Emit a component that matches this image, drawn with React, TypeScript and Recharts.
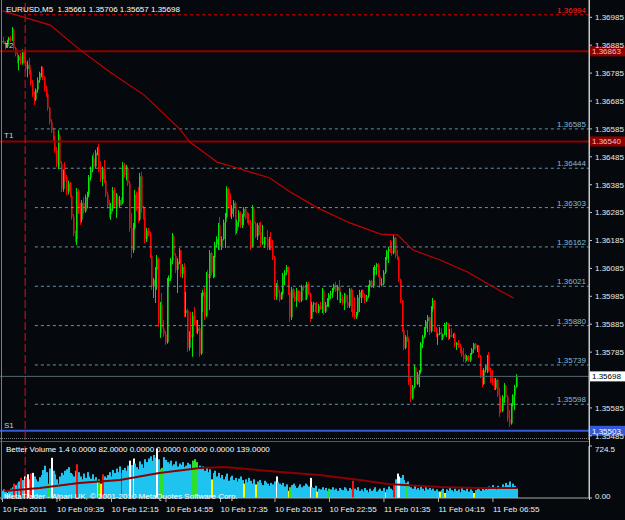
import React from 'react';
import { ComposedChart, Bar, Line, XAxis, YAxis, ReferenceLine } from 'recharts';

const FONT = "'Liberation Sans', Arial, sans-serif";
const BASE = 1.35;
const POINT = 0.00001;

// EURUSD M5 bars: [open, high, low, close] in points above 1.35000
const ohlcPoints: number[][] = [
  [1895,1910,1880,1900],[1900,1915,1890,1893],[1893,1900,1870,1880],[1880,1905,1875,1902],[1902,1915,1895,1910],
  [1910,1918,1898,1905],[1905,1950,1900,1940],[1940,1945,1870,1875],[1875,1880,1845,1852],[1852,1865,1820,1830],
  [1830,1850,1795,1845],[1845,1858,1815,1820],[1820,1870,1815,1862],[1862,1868,1820,1825],[1825,1850,1790,1800],
  [1800,1830,1770,1815],[1815,1840,1780,1790],[1790,1800,1740,1750],[1750,1760,1700,1710],[1710,1720,1671,1690],
  [1690,1730,1685,1725],[1725,1770,1715,1760],[1760,1790,1750,1785],[1785,1810,1770,1800],[1800,1808,1760,1770],
  [1770,1775,1720,1730],[1730,1740,1700,1710],[1710,1715,1650,1660],[1660,1665,1600,1610],[1610,1620,1570,1580],
  [1580,1590,1540,1545],[1545,1560,1500,1510],[1510,1520,1449,1460],[1460,1581,1440,1560],[1560,1565,1450,1460],
  [1460,1470,1359,1370],[1370,1440,1360,1430],[1430,1466,1400,1410],[1410,1420,1348,1360],[1360,1400,1350,1390],
  [1390,1395,1340,1345],[1345,1350,1260,1270],[1270,1280,1200,1210],[1210,1220,1180,1190],[1190,1373,1169,1360],
  [1360,1370,1280,1300],[1300,1320,1241,1260],[1260,1330,1250,1320],[1320,1340,1280,1290],[1290,1350,1285,1340],
  [1340,1360,1300,1350],[1350,1420,1340,1410],[1410,1450,1400,1440],[1440,1490,1430,1480],[1480,1500,1440,1450],
  [1450,1510,1445,1500],[1500,1520,1490,1515],[1515,1530,1430,1440],[1440,1470,1395,1405],[1405,1450,1380,1440],
  [1440,1474,1390,1400],[1400,1420,1341,1350],[1350,1360,1300,1310],[1310,1330,1266,1280],[1280,1320,1259,1300],
  [1300,1377,1290,1365],[1365,1375,1300,1310],[1310,1355,1266,1340],[1340,1350,1300,1310],[1310,1345,1305,1330],
  [1330,1340,1310,1320],[1320,1466,1315,1455],[1455,1463,1410,1420],[1420,1456,1400,1445],[1445,1450,1380,1390],
  [1390,1400,1216,1230],[1230,1284,1122,1150],[1150,1248,1140,1230],[1230,1366,1223,1350],[1350,1360,1290,1300],
  [1300,1377,1248,1260],[1260,1427,1255,1415],[1415,1431,1284,1300],[1300,1310,1260,1270],[1270,1305,1176,1190],
  [1190,1230,1180,1220],[1220,1230,1200,1210],[1210,1216,1122,1130],[1130,1135,1008,1020],[1020,1051,979,1045],
  [1045,1090,961,1080],[1080,1133,1008,1120],[1120,1125,875,890],[890,965,836,955],[955,997,854,870],
  [870,900,840,850],[850,860,811,820],[820,1051,815,1040],[1040,1060,1020,1050],[1050,1122,1040,1115],
  [1115,1212,1100,1200],[1200,1205,1120,1130],[1130,1140,1069,1080],[1080,1122,997,1110],[1110,1158,1100,1150],
  [1150,1151,1054,1065],[1065,1100,1050,1090],[1090,1104,911,925],[925,1001,911,935],[935,940,785,800],
  [800,860,790,850],[850,929,830,840],[840,929,768,915],[915,947,880,890],[890,900,854,860],
  [860,900,850,870],[870,880,768,780],[780,997,775,985],[985,1008,929,1000],[1000,1019,900,915],
  [915,1072,910,1065],[1065,1080,1040,1050],[1050,1151,936,1140],[1140,1144,1060,1070],[1070,1130,1050,1125],
  [1125,1180,1054,1170],[1170,1200,1160,1190],[1190,1248,1151,1240],[1240,1270,1151,1165],[1165,1200,1151,1190],
  [1190,1260,1185,1250],[1250,1284,1158,1270],[1270,1380,1265,1370],[1370,1375,1300,1310],[1310,1355,1270,1280],
  [1280,1312,1262,1300],[1300,1330,1270,1320],[1320,1325,1205,1220],[1220,1260,1210,1250],[1250,1294,1234,1285],
  [1285,1290,1230,1240],[1240,1280,1230,1270],[1270,1305,1241,1298],[1298,1305,1260,1265],[1265,1287,1247,1255],
  [1255,1284,1241,1250],[1250,1259,1151,1165],[1165,1312,1160,1300],[1300,1302,1234,1245],[1245,1252,1194,1200],
  [1200,1248,1187,1240],[1240,1250,1205,1215],[1215,1252,1162,1175],[1175,1241,1169,1180],[1180,1198,1158,1195],
  [1195,1198,1169,1190],[1190,1223,1151,1160],[1160,1198,1151,1190],[1190,1216,1151,1160],[1160,1187,1115,1125],
  [1125,1130,972,985],[985,1033,972,1025],[1025,1044,983,995],[995,1008,965,975],[975,1001,972,995],
  [995,1069,990,1060],[1060,1079,1026,1070],[1070,1097,1062,1090],[1090,1092,990,1000],[1000,1019,893,910],
  [910,1019,900,1010],[1010,1015,979,985],[985,1001,965,970],[970,1015,947,1005],[1005,1008,965,1000],
  [1000,1005,961,970],[970,1026,965,1020],[1020,1025,1005,1015],[1015,1026,972,980],[980,1037,972,1030],
  [1030,1037,990,995],[995,998,893,905],[905,965,904,955],[955,965,929,960],[960,962,929,935],
  [935,965,925,930],[930,958,925,950],[950,965,936,940],[940,1015,925,1005],[1005,1008,918,930],
  [930,965,925,955],[955,979,947,970],[970,997,947,990],[990,1005,975,995],[995,1015,979,1010],
  [1010,1030,1001,1025],[1025,1037,1001,1005],[1005,1026,972,1020],[1020,1044,961,970],[970,1001,961,975],
  [975,990,954,960],[960,997,936,990],[990,995,961,965],[965,990,943,950],[950,1015,943,1010],
  [1010,1015,929,940],[940,1008,911,920],[920,983,904,910],[910,929,904,925],[925,990,918,980],
  [980,1008,929,1000],[1000,1008,961,1005],[1005,1010,980,990],[990,995,961,970],[970,990,965,985],
  [985,1026,979,1020],[1020,1044,1001,1040],[1040,1044,1015,1020],[1020,1090,1015,1080],[1080,1097,1061,1090],
  [1090,1104,1062,1100],[1100,1104,1054,1060],[1060,1079,1015,1025],[1025,1050,1020,1030],[1030,1079,1025,1070],
  [1070,1126,1065,1120],[1120,1151,1115,1145],[1145,1162,1105,1155],[1155,1187,1140,1150],[1150,1180,1130,1140],
  [1140,1205,1135,1195],[1195,1198,1122,1130],[1130,1151,1115,1120],[1120,1125,1037,1045],[1045,1048,961,970],
  [970,972,857,865],[865,870,792,800],[800,846,795,840],[840,864,822,830],[830,835,668,680],
  [680,696,606,620],[620,667,615,660],[660,739,655,730],[730,732,660,670],[670,714,668,705],
  [705,721,660,715],[715,821,710,815],[815,846,800,840],[840,875,835,870],[870,900,846,895],
  [895,918,857,910],[910,912,846,860],[860,950,855,940],[940,979,930,970],[970,972,857,870],
  [870,875,839,845],[845,853,811,850],[850,875,846,855],[855,871,828,835],[835,850,828,848],
  [848,890,846,885],[885,893,839,888],[888,890,828,840],[840,868,832,845],[845,871,839,842],
  [842,852,835,850],[850,855,803,810],[810,821,793,818],[818,828,800,805],[805,815,782,790],
  [790,803,768,775],[775,800,750,760],[760,780,746,755],[755,775,753,770],[770,775,750,755],
  [755,782,750,778],[778,800,775,795],[795,818,782,815],[815,818,793,800],[800,810,785,808],
  [808,810,765,772],[772,775,692,700],[700,721,660,670],[670,728,668,720],[720,739,712,735],
  [735,775,710,770],[770,785,714,720],[720,728,675,680],[680,721,667,675],[675,692,649,655],
  [655,692,649,685],[685,690,624,630],[630,657,553,600],[600,624,567,575],[575,631,570,625],
  [625,674,603,665],[665,667,620,625],[625,631,535,545],[545,577,517,530],[530,602,525,595],
  [595,634,590,630],[630,668,577,661],[661,706,657,698],
];

// Moving average (price panel), read at selected bars
const maBars = [0, 28, 45, 63, 83, 104, 110, 122, 126, 134, 145, 157, 169, 185, 204, 222, 232, 241, 257, 273, 288, 300];
const maPoints = [2008, 1957, 1871, 1789, 1707, 1585, 1538, 1484, 1466, 1452, 1431, 1409, 1359, 1302, 1248, 1208, 1205, 1151, 1115, 1072, 1019, 979];

// Better Volume histogram
const volumes = [
  100,120,90,70,110,130,150,200,180,210,
  230,280,250,300,290,330,260,340,350,300,
  260,230,290,320,390,450,360,200,410,560,
  380,330,260,200,300,350,320,380,400,430,
  350,330,300,380,470,360,300,260,340,280,
  360,300,270,330,260,290,240,260,200,330,
  300,280,320,360,300,390,350,410,360,440,
  350,390,420,380,450,520,460,550,480,430,
  400,510,470,420,540,500,550,580,520,600,
  560,690,540,400,420,570,530,500,480,520,
  450,470,510,440,480,460,500,430,450,490,
  470,420,520,540,500,430,450,400,440,380,
  420,360,400,260,350,380,300,350,280,320,
  260,300,340,240,290,310,250,280,230,270,
  300,250,200,260,220,280,240,200,260,190,
  230,250,210,180,240,220,200,170,210,190,
  230,300,220,200,180,210,160,190,100,150,
  180,200,170,140,160,190,150,170,200,180,
  160,280,150,140,170,90,130,120,150,110,
  140,100,130,120,150,110,130,100,140,120,
  110,150,130,100,140,120,240,130,110,150,
  100,120,90,140,110,80,130,100,120,150,
  90,110,130,100,140,80,120,160,130,110,
  200,260,340,300,280,320,250,210,230,180,
  150,130,170,120,140,110,160,130,100,150,
  120,140,110,130,100,120,90,90,110,130,
  70,120,100,140,110,90,130,100,120,80,
  140,110,100,130,90,120,100,70,110,140,
  120,100,130,110,150,120,160,130,180,140,
  120,170,150,130,190,160,210,180,230,150,
  200,170,130,
];
// c = normal, w = climax low, r = climax high, y = low volume, g = churn
const volumeKinds = [
  'cccycccrcr','crcwrwcrwc','cccccccgcw','cccccccccc','ccccrccccc',
  'ccccccygyr','cccccccccc','rccccwcwcc','cccccccccc','cwcggccccc',
  'cccccccccc','ccgggccccc','cccycccccc','cccccccccc','ccyccccccy',
  'cccccccccc','cwccccccyg','cccccccccc','cwcccycccc','ccgccccccc',
  'ccccccrccc','cccccccccc','cccccycccc','rcwwcccgcc','cccccccccc',
  'cccccccycc','yccccccccc','cccccccycc','cccccccccc','cccccccccc','ccc',
].join('').split('');
const vmaBars = [1, 22, 45, 69, 92, 116, 130, 144, 163, 186, 210, 226, 257, 280, 302];
const vmaValues = [97, 139, 209, 250, 348, 417, 431, 403, 361, 320, 250, 195, 153, 139, 139];

// horizontal objects
const fibLevels = [1.36585, 1.36444, 1.36303, 1.36162, 1.36021, 1.35880, 1.35739, 1.35598];
const dashedHigh = 1.36994;
const targetNames = ['T2', 'T1'];
const targetPrices = [1.36863, 1.36540];
const supportName = 'S1';
const supportPrice = 1.35503;

const priceTicks = [1.36985, 1.36885, 1.36785, 1.36685, 1.36585, 1.36485, 1.36385, 1.36285, 1.36185, 1.36085, 1.35985, 1.35885, 1.35785, 1.35585, 1.35485];
const timeTickBars = [0, 32, 64, 96, 128, 160, 192, 224, 256, 288];
const timeTickLabels = ['10 Feb 2011', '10 Feb 09:35', '10 Feb 12:15', '10 Feb 14:55', '10 Feb 17:35', '10 Feb 20:15', '10 Feb 22:55', '11 Feb 01:35', '11 Feb 04:15', '11 Feb 06:55'];
const separatorBar = 13.3;

const volumeTop = 724.5;

// axis limits
const X_MIN = -1.47;
const X_MAX = 344.4;
const Y_MIN = 1.3547;
const Y_MAX = 1.37047;

const toPrice = (p: number) => BASE + p * POINT;

const priceTable = ohlcPoints.map((b, i) => ({
  i,
  o: toPrice(b[0]), h: toPrice(b[1]), l: toPrice(b[2]), c: toPrice(b[3]),
  range: [toPrice(b[2]), toPrice(b[1])],
}));
const maTable = maBars.map((b, k) => ({ i: b, ma: toPrice(maPoints[k]) }));

const volTable = volumes.map((v, i) => ({ i, v, kind: volumeKinds[i] }));
const vmaTable = vmaBars.map((b, k) => ({ i: b, vma: vmaValues[k] }));

const last = priceTable[priceTable.length - 1];
const headerText = `EURUSD,M5  ${last.o.toFixed(5)} ${last.h.toFixed(5)} ${last.l.toFixed(5)} ${last.c.toFixed(5)}`;

const BG = '#05090d';
const BULL_WICK = '#00e600';
const BULL_BODY = '#158515';
const BEAR_WICK = '#ff0000';
const BEAR_BODY = '#8a1010';
const VOL_COLORS: Record<string, string> = { c: '#1ec4ef', w: '#ffffff', r: '#ff1010', y: '#ffff00', g: '#2ee02e' };

const Candle = (props: any) => {
  const { x, y, width, height, payload } = props;
  if (!payload || x == null) return null;
  const top = Math.min(y, y + height);
  const hgt = Math.abs(height);
  const span = payload.h - payload.l || 1e-9;
  const py = (v: number) => top + ((payload.h - v) / span) * hgt;
  const cx = Math.round(x + width / 2);
  const up = payload.c >= payload.o;
  const bTop = py(Math.max(payload.o, payload.c));
  const bBot = py(Math.min(payload.o, payload.c));
  return (
    <g>
      <rect x={cx} y={bTop} width={1} height={Math.max(1, bBot - bTop)} fill={up ? BULL_BODY : BEAR_BODY} />
      <rect x={cx - 1} y={top} width={1} height={Math.max(1, hgt)} fill={up ? BULL_WICK : BEAR_WICK} />
    </g>
  );
};

const VolBar = (props: any) => {
  const { x, y, width, height, payload } = props;
  if (!payload || x == null) return null;
  const cx = Math.round(x + width / 2);
  return <rect x={cx - 1} y={y} width={2} height={Math.max(0, height)} fill={VOL_COLORS[payload.kind] || VOL_COLORS.c} />;
};

const levelLabel = (text: string, color: string) => (props: any) => {
  const vb = props.viewBox || {};
  return (
    <text x={vb.x + vb.width - 3} y={vb.y - 2} textAnchor="end" fill={color} fontSize={8} fontFamily={FONT}>
      {text}
    </text>
  );
};

const boxLabel = (name: string, text: string, bg: string, fg: string) => (props: any) => {
  const vb = props.viewBox || {};
  const y = vb.y;
  const right = vb.x + vb.width;
  return (
    <g>
      {name ? (
        <text x={4} y={y - 3} fill="#cfcfcf" fontSize={8} fontFamily={FONT}>{name}</text>
      ) : null}
      <rect x={right + 1} y={y - 5} width={36} height={10} fill={bg} />
      <text x={right + 3} y={y + 3} fill={fg} fontSize={8} fontFamily={FONT}>{text}</text>
    </g>
  );
};

const TimeTick = (props: any) => {
  const { x, y, payload } = props;
  const k = timeTickBars.indexOf(payload.value);
  return (
    <g>
      <line x1={x} x2={x} y1={y} y2={y + 4} stroke="#b0b0b0" />
      <text x={x} y={y + 14} fill="#f0f0f0" fontSize={8} fontFamily={FONT} textAnchor="start">
        {k >= 0 ? timeTickLabels[k] : ''}
      </text>
    </g>
  );
};

const VolTick = (props: any) => {
  const { x, y, payload } = props;
  const isTop = payload.value > 0;
  return (
    <text x={x} y={isTop ? y + 6 : y + 1} fill="#f0f0f0" fontSize={8} fontFamily={FONT} textAnchor="start">
      {isTop ? String(volumeTop) : '0.00'}
    </text>
  );
};

export default function App() {
  return (
    <div style={{ position: 'absolute', left: 0, top: 0, width: 625, height: 520, background: BG, overflow: 'hidden' }}>
      <div style={{ position: 'absolute', left: 0, top: 0 }}>
        <ComposedChart width={625} height={440} data={priceTable} margin={{ top: 0, right: 0, bottom: 0, left: 0 }}>
          <XAxis type="number" dataKey="i" domain={[X_MIN, X_MAX]} allowDataOverflow hide />
          <YAxis
            orientation="right"
            width={36}
            domain={[Y_MIN, Y_MAX]}
            allowDataOverflow
            ticks={priceTicks}
            interval={0}
            tickFormatter={(v: number) => v.toFixed(5)}
            tick={{ fill: '#e8e8e8', fontSize: 8, fontFamily: FONT }}
            tickSize={3}
            tickMargin={3}
            axisLine={{ stroke: '#c8c8c8' }}
            tickLine={{ stroke: '#c8c8c8' }}
          />
          {fibLevels.map((p) => (
            <ReferenceLine
              key={p}
              segment={[{ x: 19, y: p }, { x: X_MAX, y: p }]}
              stroke="#6a93ab"
              strokeDasharray="3 3"
              label={levelLabel(p.toFixed(5), '#86b6d8')}
            />
          ))}
          <ReferenceLine
            segment={[{ x: 15, y: dashedHigh }, { x: X_MAX, y: dashedHigh }]}
            stroke="#e00000"
            strokeDasharray="3 3"
            label={levelLabel(dashedHigh.toFixed(5), '#ff2020')}
          />
          {targetPrices.map((p, k) => (
            <ReferenceLine
              key={p}
              y={p}
              stroke="#8b0000"
              strokeWidth={2}
              label={boxLabel(targetNames[k], p.toFixed(5), '#8b0000', '#f0c0c0')}
            />
          ))}
          <ReferenceLine
            y={last.c}
            stroke="#56666e"
            strokeWidth={1}
            label={boxLabel('', last.c.toFixed(5), '#ffffff', '#000000')}
          />
          <ReferenceLine
            y={supportPrice}
            stroke="#3558d8"
            strokeWidth={2}
            label={boxLabel(supportName, supportPrice.toFixed(5), '#3558d8', '#ffffff')}
          />
          <ReferenceLine x={separatorBar} stroke="#e01010" strokeDasharray="8 3" />
          <Line data={maTable} type="linear" dataKey="ma" stroke="#c40000" strokeWidth={1.2} dot={false} activeDot={false} isAnimationActive={false} />
          <Bar dataKey="range" barSize={2} shape={Candle} isAnimationActive={false} />
        </ComposedChart>
      </div>
      <div style={{ position: 'absolute', left: 0, top: 441 }}>
        <ComposedChart width={625} height={79} data={volTable} margin={{ top: 5, right: 0, bottom: 0, left: 0 }}>
          <XAxis
            type="number"
            dataKey="i"
            domain={[X_MIN, X_MAX]}
            allowDataOverflow
            ticks={timeTickBars}
            interval={0}
            height={22}
            tick={TimeTick}
            tickLine={false}
            tickSize={0}
            tickMargin={0}
            axisLine={{ stroke: '#a8a8a8' }}
          />
          <YAxis
            orientation="right"
            width={36}
            domain={[0, volumeTop]}
            allowDataOverflow
            ticks={[0, volumeTop]}
            interval={0}
            tick={VolTick}
            tickSize={3}
            tickMargin={3}
            axisLine={{ stroke: '#c8c8c8' }}
            tickLine={{ stroke: '#c8c8c8' }}
          />
          <ReferenceLine x={separatorBar} stroke="#e01010" strokeDasharray="8 3" />
          <Bar dataKey="v" barSize={2} shape={VolBar} isAnimationActive={false} />
          <Line data={vmaTable} type="linear" dataKey="vma" stroke="#8b0000" strokeWidth={2} dot={false} activeDot={false} isAnimationActive={false} />
        </ComposedChart>
      </div>
      <svg width={625} height={520} style={{ position: 'absolute', left: 0, top: 0, pointerEvents: 'none' }}>
        <line x1={1.5} x2={1.5} y1={0} y2={500} stroke="#7c7c7c" />
        <line x1={589.5} x2={589.5} y1={0} y2={500} stroke="#c8c8c8" />
        <line x1={0} x2={589} y1={438.5} y2={438.5} stroke="#808080" strokeDasharray="1 1" />
        <line x1={0} x2={589} y1={441.5} y2={441.5} stroke="#5a5a5a" />
        <text x={6} y={12} fill="#ffffff" fontSize={8} fontFamily={FONT} style={{ whiteSpace: 'pre' }}>{headerText}</text>
        <text x={6} y={452} fill="#ffffff" fontSize={8} fontFamily={FONT}>Better Volume 1.4 0.0000 82.0000 0.0000 0.0000 0.0000 0.0000 139.0000</text>
        <text x={4} y={499} fill="#ffffff" fontSize={8} fontFamily={FONT}>MetaTrader - Alpari UK, © 2001-2010 MetaQuotes Software Corp.</text>
      </svg>
    </div>
  );
}
